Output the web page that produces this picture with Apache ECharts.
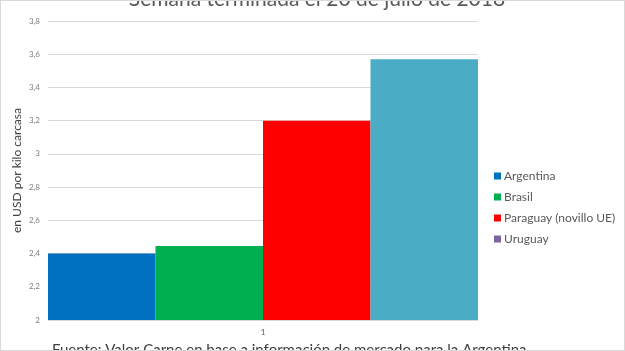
<!DOCTYPE html>
<html><head><meta charset="utf-8">
<script src="https://cdn.jsdelivr.net/npm/echarts@6/dist/echarts.min.js"></script>
<style>html,body{margin:0;padding:0;background:#fff;}#c{width:625px;height:351px;box-sizing:border-box;border:1px solid #d9d9d9;}</style>
</head><body><div id="c"></div>
<script>
const categories = ['1'];
const seriesNames = ['Argentina', 'Brasil', 'Paraguay (novillo UE)', 'Uruguay'];
const argentina = [2.40];
const brasil = [2.445];
const paraguay = [3.20];
const uruguay = [3.57];
const yTicks = [2, 2.2, 2.4, 2.6, 2.8, 3, 3.2, 3.4, 3.6, 3.8];
const titleText = 'Semana terminada el 20 de julio de 2018';
const sourceText = 'Fuente: Valor Carne en base a información de mercado para la Argentina';
const yName = 'en USD por kilo carcasa';

const font = 'Lato, "Open Sans", sans-serif';
const barColors = ['#0070C0', '#00B050', '#FF0000', '#4BACC6'];
const legendColors = ['#0070C0', '#00B050', '#FF0000', '#8064A2'];
const values = [argentina, brasil, paraguay, uruguay];

const chart = echarts.init(document.getElementById('c'), null, {renderer: 'canvas'});
chart.setOption({
  animation: false,
  textStyle: {fontFamily: font},
  title: {
    text: titleText, left: 311, textAlign: 'center', top: -17,
    textStyle: {fontFamily: font, fontSize: 21, fontWeight: 'normal', color: '#595959'}
  },
  grid: {left: 47, right: 146, top: 20, bottom: 30, containLabel: false},
  legend: {
    orient: 'vertical', left: 488, top: 164, itemWidth: 7, itemHeight: 7, itemGap: 9,
    icon: 'rect',
    textStyle: {fontFamily: font, fontSize: 12, color: '#595959', padding: [0, 0, 0, -2]},
    data: seriesNames.map((n, i) => ({name: n, itemStyle: {color: legendColors[i]}}))
  },
  xAxis: {
    type: 'category', data: categories,
    axisLine: {show: true, lineStyle: {color: '#d9d9d9'}}, axisTick: {show: false},
    axisLabel: {fontSize: 8, color: '#595959', margin: 8}
  },
  yAxis: {
    type: 'value', min: 2, max: 3.8, interval: 0.2,
    name: yName, nameLocation: 'middle', nameGap: 25, nameRotate: 90, nameMoveOverlap: false,
    nameTextStyle: {fontFamily: font, fontSize: 12, color: '#404040'},
    axisLine: {show: false}, axisTick: {show: false},
    splitLine: {lineStyle: {color: '#d9d9d9'}},
    axisLabel: {fontSize: 8, color: '#7f7f7f', margin: 8,
      formatter: v => { const t = yTicks.find(x => Math.abs(x - v) < 1e-9); return String(t !== undefined ? t : v).replace('.', ','); }}
  },
  series: seriesNames.map((n, i) => ({
    name: n, type: 'bar', data: values[i], barGap: '0%', barCategoryGap: '0%',
    itemStyle: {color: barColors[i]}
  })),
  graphic: [{
    type: 'text', left: 51, top: 342,
    style: {text: sourceText, font: '15px ' + font, fill: '#404040'}
  }]
});
</script></body></html>
